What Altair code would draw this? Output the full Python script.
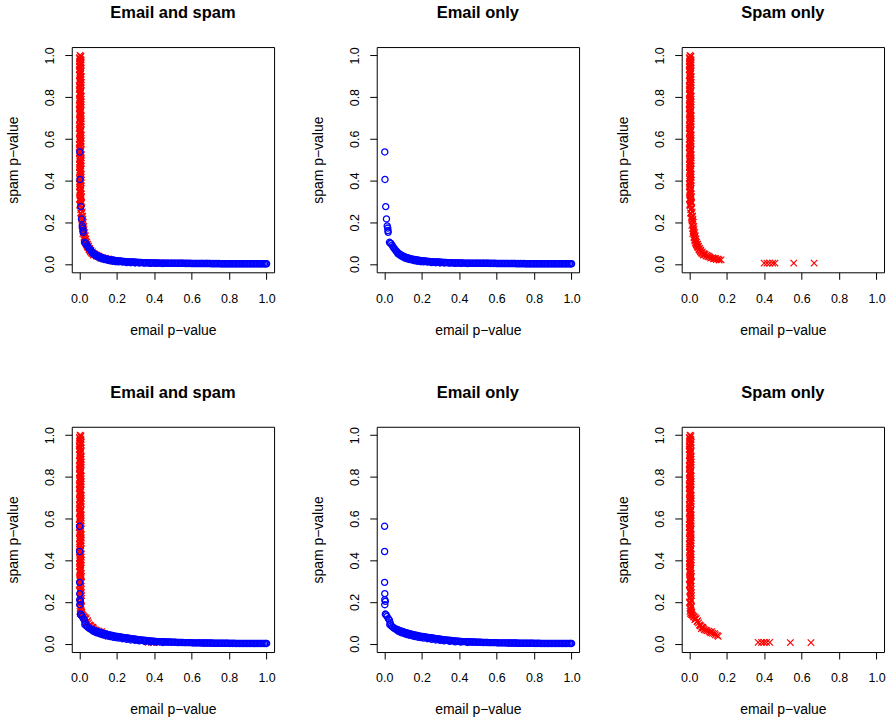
import altair as alt
import pandas as pd

FONT = "Liberation Sans"
TICK_VALUES = [0.0, 0.2, 0.4, 0.6, 0.8, 1.0]
TITLES = ["Email and spam", "Email only", "Spam only"]
X_TITLE = "email p\u2212value"
Y_TITLE = "spam p\u2212value"

# dense upper part of the spam (red x) column, seen the same in both rows
spam_band_y = [1.000, 0.993, 0.984, 0.978, 0.969, 0.961, 0.955, 0.946, 0.938, 0.931,
               0.922, 0.915, 0.907, 0.898, 0.892, 0.883, 0.875, 0.868, 0.859, 0.852,
               0.844, 0.836, 0.829, 0.820, 0.813, 0.805, 0.797, 0.790, 0.781, 0.774,
               0.766, 0.758, 0.751, 0.742, 0.735, 0.727, 0.719, 0.712, 0.703, 0.696,
               0.688, 0.680, 0.673, 0.664, 0.657, 0.649, 0.641, 0.634, 0.625, 0.618,
               0.610, 0.602, 0.595, 0.586, 0.579, 0.571, 0.563, 0.556, 0.547, 0.540,
               0.532, 0.524, 0.517, 0.508, 0.501, 0.493, 0.485, 0.478, 0.469, 0.462,
               0.454, 0.446, 0.439, 0.430, 0.423, 0.415, 0.407, 0.400, 0.391, 0.384,
               0.376, 0.368, 0.361, 0.352, 0.345, 0.337, 0.329, 0.322, 0.313, 0.306,
               0.997, 0.989, 0.981, 0.973, 0.965, 0.958, 0.950, 0.942, 0.934, 0.926,
               0.918, 0.911, 0.903, 0.895, 0.887, 0.879, 0.871, 0.864, 0.856, 0.848,
               0.840, 0.832, 0.824, 0.817, 0.809, 0.801, 0.793, 0.785, 0.777, 0.770,
               0.762, 0.754, 0.746, 0.738, 0.730, 0.723, 0.715, 0.707, 0.699, 0.691,
               0.683, 0.676, 0.668, 0.660, 0.652, 0.644, 0.636, 0.629, 0.621, 0.613,
               0.605, 0.597, 0.589, 0.582, 0.574, 0.566, 0.558, 0.550, 0.542, 0.535,
               0.527, 0.519, 0.511, 0.503, 0.495, 0.488, 0.480, 0.472, 0.464, 0.456,
               0.448, 0.441, 0.433, 0.425, 0.417, 0.409, 0.401, 0.394, 0.386, 0.378,
               0.370, 0.362, 0.354, 0.347, 0.339, 0.331, 0.323, 0.315, 0.308, 0.302]
spam_band_x = [0.004, 0.008, 0.002, 0.010, 0.001, 0.006, 0.009, 0.003, 0.007, 0.000,
               0.010, 0.005, 0.002, 0.008, 0.004, 0.011, 0.001, 0.006, 0.009, 0.003,
               0.007, 0.000, 0.010, 0.005, 0.002, 0.008, 0.004, 0.011, 0.001, 0.006,
               0.009, 0.003, 0.007, 0.000, 0.010, 0.005, 0.002, 0.008, 0.004, 0.011,
               0.001, 0.006, 0.009, 0.003, 0.007, 0.000, 0.010, 0.005, 0.002, 0.008,
               0.004, 0.011, 0.001, 0.006, 0.009, 0.003, 0.007, 0.000, 0.010, 0.005,
               0.002, 0.008, 0.004, 0.011, 0.001, 0.006, 0.009, 0.003, 0.007, 0.001,
               0.010, 0.005, 0.002, 0.008, 0.004, 0.011, 0.002, 0.006, 0.009, 0.003,
               0.007, 0.001, 0.010, 0.005, 0.003, 0.008, 0.004, 0.012, 0.002, 0.007,
               0.009, 0.001, 0.006, 0.003, 0.011, 0.005, 0.000, 0.008, 0.002, 0.010,
               0.004, 0.007, 0.001, 0.009, 0.005, 0.002, 0.011, 0.006, 0.000, 0.008,
               0.003, 0.010, 0.005, 0.001, 0.007, 0.009, 0.002, 0.006, 0.011, 0.004,
               0.000, 0.008, 0.003, 0.010, 0.006, 0.001, 0.009, 0.004, 0.007, 0.002,
               0.011, 0.005, 0.000, 0.008, 0.003, 0.010, 0.006, 0.001, 0.009, 0.004,
               0.007, 0.002, 0.011, 0.005, 0.000, 0.008, 0.003, 0.010, 0.006, 0.001,
               0.009, 0.004, 0.007, 0.002, 0.011, 0.005, 0.001, 0.008, 0.003, 0.010,
               0.006, 0.002, 0.009, 0.004, 0.007, 0.003, 0.012, 0.005, 0.001, 0.008,
               0.004, 0.010, 0.006, 0.002, 0.009, 0.005, 0.012, 0.007, 0.003, 0.010]

# row 1: lower part of the spam column and its tail
spam1_x = [0.006, 0.012, 0.004, 0.014, 0.008, 0.016, 0.010, 0.018, 0.012, 0.020,
           0.015, 0.022, 0.018, 0.024, 0.020, 0.026, 0.022, 0.030, 0.026, 0.033,
           0.028, 0.036, 0.032, 0.040, 0.036, 0.045, 0.042, 0.050, 0.047, 0.056,
           0.053, 0.062, 0.060, 0.070, 0.068, 0.078, 0.075, 0.085, 0.090, 0.095,
           0.100, 0.110, 0.115, 0.125, 0.130, 0.140, 0.145, 0.155, 0.160, 0.170,
           0.009, 0.003, 0.011, 0.007, 0.013, 0.017, 0.014, 0.021, 0.019, 0.025,
           0.029, 0.034, 0.039, 0.044, 0.052, 0.058, 0.066, 0.082, 0.105, 0.135,
           0.400, 0.415, 0.430, 0.446, 0.458, 0.558, 0.667]
spam1_y = [0.300, 0.290, 0.280, 0.270, 0.260, 0.250, 0.240, 0.230, 0.220, 0.215,
           0.205, 0.200, 0.190, 0.180, 0.170, 0.165, 0.155, 0.150, 0.140, 0.135,
           0.125, 0.120, 0.110, 0.105, 0.097, 0.095, 0.088, 0.085, 0.078, 0.075,
           0.068, 0.066, 0.058, 0.058, 0.050, 0.050, 0.043, 0.045, 0.038, 0.042,
           0.035, 0.033, 0.028, 0.030, 0.025, 0.027, 0.021, 0.024, 0.019, 0.020,
           0.295, 0.285, 0.265, 0.245, 0.225, 0.210, 0.185, 0.160, 0.145, 0.128,
           0.115, 0.102, 0.092, 0.082, 0.071, 0.062, 0.054, 0.047, 0.037, 0.026,
           0.004, 0.004, 0.004, 0.004, 0.004, 0.004, 0.004]

# row 2: lower part of the spam column and its tail
spam2_x = [0.004, 0.009, 0.002, 0.007, 0.011, 0.003, 0.008, 0.012, 0.005, 0.010,
           0.002, 0.008, 0.012, 0.005, 0.010, 0.014, 0.006, 0.012, 0.020, 0.026,
           0.032, 0.038, 0.030, 0.045, 0.050, 0.055, 0.060, 0.068, 0.065, 0.075,
           0.080, 0.095, 0.105, 0.110, 0.120, 0.125, 0.135, 0.140, 0.150, 0.155,
           0.008, 0.001, 0.010, 0.004, 0.012, 0.006, 0.009, 0.003, 0.011, 0.007,
           0.004, 0.013, 0.016, 0.024, 0.035, 0.042, 0.058, 0.072, 0.088, 0.115,
           0.368, 0.386, 0.400, 0.413, 0.430, 0.540, 0.650]
spam2_y = [0.300, 0.290, 0.280, 0.270, 0.260, 0.250, 0.240, 0.230, 0.220, 0.210,
           0.200, 0.190, 0.180, 0.170, 0.160, 0.150, 0.145, 0.140, 0.135, 0.130,
           0.125, 0.120, 0.115, 0.110, 0.100, 0.090, 0.085, 0.080, 0.072, 0.075,
           0.068, 0.062, 0.060, 0.055, 0.058, 0.050, 0.048, 0.042, 0.040, 0.035,
           0.295, 0.285, 0.275, 0.255, 0.245, 0.225, 0.205, 0.195, 0.175, 0.165,
           0.155, 0.148, 0.138, 0.128, 0.118, 0.105, 0.088, 0.078, 0.065, 0.052,
           0.006, 0.006, 0.006, 0.006, 0.006, 0.005, 0.005]

# email (blue circles): the few scattered points near x = 0
email1_head_x = [0.003, 0.004, 0.008, 0.012, 0.016, 0.019, 0.020, 0.021, 0.028, 0.033,
                 0.036, 0.042, 0.047, 0.052, 0.057, 0.062, 0.066]
email1_head_y = [0.537, 0.405, 0.275, 0.216, 0.182, 0.172, 0.160, 0.152, 0.104, 0.100,
                 0.098, 0.090, 0.082, 0.076, 0.070, 0.064, 0.060]
email2_head_x = [0.002, 0.002, 0.002, 0.003, 0.003, 0.006, 0.003, 0.006, 0.010, 0.015,
                 0.022, 0.028, 0.032, 0.030, 0.038, 0.045, 0.052, 0.058, 0.064]
email2_head_y = [0.563, 0.442, 0.294, 0.240, 0.211, 0.203, 0.187, 0.142, 0.138, 0.131,
                 0.120, 0.113, 0.100, 0.091, 0.085, 0.080, 0.075, 0.071, 0.069]

# email: the long dense run from x = 0.07 to 1
email_run_x = [0.070, 0.077, 0.083, 0.090, 0.098, 0.104, 0.111, 0.119, 0.126, 0.132,
               0.140, 0.147, 0.155, 0.161, 0.169, 0.176, 0.183, 0.191, 0.198, 0.205,
               0.213, 0.220, 0.227, 0.235, 0.242, 0.249, 0.257, 0.264, 0.271, 0.279,
               0.286, 0.293, 0.301, 0.308, 0.316, 0.323, 0.330, 0.338, 0.345, 0.352,
               0.360, 0.367, 0.375, 0.382, 0.389, 0.397, 0.404, 0.412, 0.419, 0.426,
               0.434, 0.441, 0.449, 0.456, 0.463, 0.471, 0.478, 0.486, 0.493, 0.500,
               0.508, 0.515, 0.523, 0.530, 0.537, 0.545, 0.552, 0.560, 0.567, 0.574,
               0.582, 0.589, 0.597, 0.604, 0.611, 0.619, 0.626, 0.634, 0.641, 0.648,
               0.656, 0.663, 0.671, 0.678, 0.685, 0.693, 0.700, 0.708, 0.715, 0.722,
               0.730, 0.737, 0.745, 0.752, 0.759, 0.767, 0.774, 0.782, 0.789, 0.796,
               0.804, 0.811, 0.819, 0.826, 0.833, 0.841, 0.848, 0.856, 0.863, 0.870,
               0.878, 0.885, 0.893, 0.900, 0.907, 0.915, 0.922, 0.930, 0.937, 0.944,
               0.952, 0.959, 0.967, 0.974, 0.981, 0.989, 0.996, 1.000]
email1_run_y = [0.056, 0.051, 0.047, 0.043, 0.039, 0.036, 0.033, 0.031, 0.029, 0.027,
                0.025, 0.024, 0.022, 0.021, 0.020, 0.019, 0.018, 0.017, 0.016, 0.015,
                0.014, 0.014, 0.013, 0.012, 0.012, 0.011, 0.011, 0.010, 0.010, 0.009,
                0.009, 0.009, 0.008, 0.008, 0.007, 0.007, 0.007, 0.006, 0.006, 0.006,
                0.006, 0.005, 0.005, 0.005, 0.005, 0.005, 0.005, 0.004, 0.005, 0.004,
                0.004, 0.004, 0.004, 0.004, 0.003, 0.004, 0.003, 0.004, 0.003, 0.003,
                0.003, 0.003, 0.003, 0.003, 0.003, 0.003, 0.003, 0.003, 0.002, 0.003,
                0.002, 0.003, 0.002, 0.002, 0.002, 0.002, 0.002, 0.002, 0.002, 0.002,
                0.002, 0.002, 0.002, 0.002, 0.002, 0.002, 0.002, 0.001, 0.002, 0.001,
                0.002, 0.001, 0.002, 0.001, 0.001, 0.001, 0.001, 0.001, 0.001, 0.001,
                0.001, 0.001, 0.001, 0.001, 0.001, 0.001, 0.001, 0.001, 0.001, 0.001,
                0.001, 0.001, 0.001, 0.001, 0.001, 0.001, 0.001, 0.001, 0.001, 0.001,
                0.001, 0.001, 0.001, 0.001, 0.001, 0.001, 0.001, 0.001]
email2_run_y = [0.068, 0.065, 0.062, 0.060, 0.058, 0.056, 0.054, 0.052, 0.050, 0.048,
                0.046, 0.045, 0.043, 0.042, 0.040, 0.039, 0.038, 0.036, 0.035, 0.034,
                0.033, 0.032, 0.031, 0.030, 0.029, 0.028, 0.027, 0.026, 0.025, 0.024,
                0.023, 0.022, 0.021, 0.020, 0.019, 0.018, 0.018, 0.017, 0.016, 0.015,
                0.015, 0.014, 0.013, 0.013, 0.012, 0.012, 0.011, 0.011, 0.010, 0.010,
                0.010, 0.009, 0.009, 0.009, 0.008, 0.008, 0.008, 0.008, 0.007, 0.007,
                0.007, 0.007, 0.006, 0.006, 0.006, 0.006, 0.006, 0.005, 0.005, 0.005,
                0.005, 0.005, 0.005, 0.004, 0.004, 0.004, 0.004, 0.004, 0.004, 0.004,
                0.003, 0.003, 0.003, 0.003, 0.003, 0.003, 0.003, 0.003, 0.002, 0.002,
                0.002, 0.002, 0.002, 0.002, 0.002, 0.002, 0.002, 0.002, 0.002, 0.002,
                0.001, 0.002, 0.001, 0.002, 0.001, 0.001, 0.001, 0.001, 0.001, 0.001,
                0.001, 0.001, 0.001, 0.001, 0.001, 0.001, 0.001, 0.001, 0.001, 0.001,
                0.001, 0.001, 0.001, 0.001, 0.001, 0.001, 0.001, 0.001]

# email: second, slightly offset run that thickens the band near its bend
email1_extra_x = [0.074, 0.086, 0.094, 0.108, 0.122, 0.136, 0.151, 0.165, 0.180, 0.195,
                  0.210, 0.231, 0.253, 0.275, 0.298, 0.320, 0.349, 0.379, 0.408, 0.445]
email1_extra_y = [0.048, 0.041, 0.036, 0.029, 0.025, 0.021, 0.018, 0.015, 0.013, 0.011,
                  0.010, 0.009, 0.007, 0.006, 0.005, 0.005, 0.004, 0.003, 0.003, 0.002]
email2_extra_x = [0.074, 0.086, 0.094, 0.108, 0.122, 0.136, 0.151, 0.165, 0.180, 0.195,
                  0.210, 0.231, 0.253, 0.275, 0.298, 0.320, 0.349, 0.379, 0.408, 0.445]
email2_extra_y = [0.060, 0.055, 0.052, 0.048, 0.044, 0.040, 0.037, 0.034, 0.031, 0.029,
                  0.027, 0.024, 0.021, 0.018, 0.016, 0.014, 0.011, 0.009, 0.008, 0.006]

X_SHAPE = "M-1,-1L1,1M1,-1L-1,1"
DOMAIN = [-0.04, 1.04]


def frame(xs, ys):
    return pd.DataFrame({"x": xs, "y": ys})


def encodings():
    x = alt.X("x:Q",
              scale=alt.Scale(domain=DOMAIN, nice=False, zero=False),
              axis=alt.Axis(values=TICK_VALUES, format=".1f", title=X_TITLE,
                            labelBaseline="alphabetic", labelPadding=23,
                            titleBaseline="alphabetic", titleY=62))
    y = alt.Y("y:Q",
              scale=alt.Scale(domain=DOMAIN, nice=False, zero=False),
              axis=alt.Axis(values=TICK_VALUES, format=".1f", title=Y_TITLE,
                            labelAngle=270, labelAlign="center",
                            labelBaseline="alphabetic", labelPadding=11,
                            titleAngle=270, titleBaseline="alphabetic",
                            titleAlign="center", titleX=-54, titleY=113))
    return x, y


def spam_layer(df):
    x, y = encodings()
    return alt.Chart(df).mark_point(shape=X_SHAPE, filled=False, color="#FF0000",
                                    strokeWidth=1.2, size=42, opacity=1).encode(x=x, y=y)


def email_layer(df):
    x, y = encodings()
    return alt.Chart(df).mark_point(shape="circle", filled=False, color="#0000FF",
                                    strokeWidth=1.3, size=38, opacity=1).encode(x=x, y=y)


def title(text):
    return alt.TitleParams(text=text, font=FONT, fontSize=16.5, fontWeight="bold",
                           color="black", anchor="middle", baseline="alphabetic",
                           offset=12)


rows = [
    (spam_band_x + spam1_x, spam_band_y + spam1_y,
     email1_head_x + email_run_x + email1_extra_x,
     email1_head_y + email1_run_y + email1_extra_y),
    (spam_band_x + spam2_x, spam_band_y + spam2_y,
     email2_head_x + email_run_x + email2_extra_x,
     email2_head_y + email2_run_y + email2_extra_y),
]

panels = []
for sx, sy, ex, ey in rows:
    sdf = frame(sx, sy)
    edf = frame(ex, ey)
    both = alt.layer(spam_layer(sdf), email_layer(edf)).properties(
        width=203, height=226, title=title(TITLES[0]))
    email_only = email_layer(edf).properties(width=203, height=226, title=title(TITLES[1]))
    spam_only = spam_layer(sdf).properties(width=203, height=226, title=title(TITLES[2]))
    panels += [both, email_only, spam_only]

chart = alt.concat(*panels, columns=3, spacing={"row": 155, "column": 103},
                   bounds="flush").properties(
    padding={"left": 6, "top": 3, "right": 5, "bottom": 5}
).configure(background="white").configure_view(
    stroke="black", strokeWidth=1, fill="white"
).configure_axis(
    domain=False, grid=False, ticks=True, tickColor="black", tickSize=7,
    tickWidth=1, labelFont=FONT, labelFontSize=12.5, labelColor="black",
    titleFont=FONT, titleFontSize=14, titleFontWeight="normal", titleColor="black",
    labelOverlap=False, labelFlush=False
)

chart.save("out.html", embed_options={"renderer": "svg", "actions": False})
